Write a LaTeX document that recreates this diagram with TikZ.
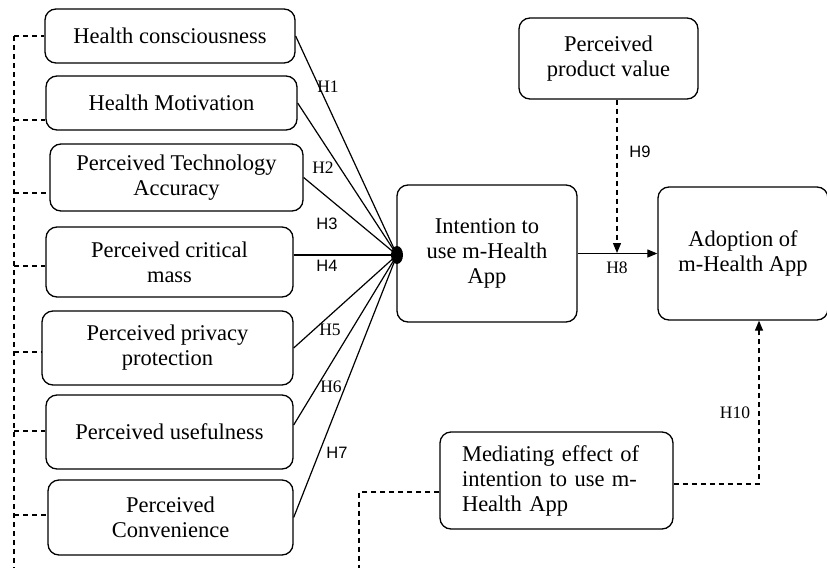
\documentclass[tikz,border=0pt]{standalone}
\usepackage{fontspec}
\setmainfont{Liberation Serif}
\newfontfamily\hsans{Liberation Sans}
\usetikzlibrary{arrows.meta}
\begin{document}
\begin{tikzpicture}[x=1pt,y=-1pt,
  box/.style={draw,rounded corners=11pt,line width=1.3pt,align=center,inner sep=0pt,
    font=\fontsize{22.5}{25}\selectfont},
  link/.style={line width=1.2pt},
  dlink/.style={line width=1.2pt,dash pattern=on 5pt off 4pt},
  hs/.style={font=\fontsize{17.5}{19}\selectfont,inner sep=0pt},
  hsa/.style={font=\hsans\fontsize{16.5}{18}\selectfont,inner sep=0pt},
  tip/.style={-{Triangle[length=10pt,width=8pt]}}
]
\useasboundingbox (0,0) rectangle (827,568);

% left boxes
\node[box,minimum width=250pt,minimum height=54pt] (b1) at (170,36) {Health consciousness};
\node[box,minimum width=251pt,minimum height=54pt] (b2) at (171.5,103) {Health Motivation};
\node[box,minimum width=253pt,minimum height=67pt] (b3) at (176.5,177.5) {Perceived Technology\\Accuracy};
\node[box,minimum width=247pt,minimum height=70pt] (b4) at (169.5,262) {Perceived critical\\mass};
\node[box,minimum width=251pt,minimum height=74pt] (b5) at (167.5,348) {Perceived privacy\\protection};
\node[box,minimum width=247pt,minimum height=74pt] (b6) at (169.5,432) {Perceived usefulness};
\node[box,minimum width=245pt,minimum height=75pt] (b7) at (170.5,517.5) {Perceived\\Convenience};

% right boxes
\node[box,minimum width=180pt,minimum height=137pt] (i) at (487,253.5) {Intention to\\use m-Health\\App};
\node[box,minimum width=179pt,minimum height=81pt] (pv) at (608.5,58.5) {Perceived\\product value};
\node[box,minimum width=170pt,minimum height=133pt] (a) at (743,253.5) {Adoption of\\m-Health App};
\node[box,minimum width=233pt,minimum height=97pt,align=left,text width=189pt,inner xsep=22pt] (m) at (556.5,480.5) {Mediating effect of\\intention to use m-\\Health App};

% junction
\coordinate (J) at (397,255);
\coordinate (c4) at (293,255);
\coordinate (c6) at (293,425);
\draw[link] (b1.east) -- (J);
\draw[link] (b2.east) -- (J);
\draw[link] (b3.east) -- (J);
\draw[link] (c4 -| b4.east) -- (J);
\draw[link] (b5.east) -- (J);
\draw[link] (c6 -| b6.east) -- (J);
\draw[link] (b7.east) -- (J);
\fill (J) ellipse [x radius=6pt, y radius=9pt];

% H8
\draw[link,tip] (i.east) -- (a.west);
% H9
\coordinate (h9x) at (617,253);
\draw[dlink,tip] (h9x |- pv.south) -- (h9x);
% H10
\coordinate (h10c) at (759,484);
\draw[dlink,tip] (h10c -| m.east) -- (h10c) -- (h10c |- a.south);
% mediating left dashed
\coordinate (m2) at (359,492);
\coordinate (mbot) at (359,568);
\draw[dlink] (m2 -| m.west) -- (m2) -- (mbot);

% left dashed spine
\coordinate (stop) at (14,36);
\coordinate (sbot) at (14,568);
\draw[dlink] (stop) -- (sbot);
\coordinate (s1) at (14,36);
\coordinate (s2) at (14,120);
\coordinate (s3) at (14,193);
\coordinate (s4) at (14,266);
\coordinate (s5) at (14,352);
\coordinate (s6) at (14,431);
\coordinate (s7) at (14,515);
\draw[dlink] (s1) -- (s1 -| b1.west);
\draw[dlink] (s2) -- (s2 -| b2.west);
\draw[dlink] (s3) -- (s3 -| b3.west);
\draw[dlink] (s4) -- (s4 -| b4.west);
\draw[dlink] (s5) -- (s5 -| b5.west);
\draw[dlink] (s6) -- (s6 -| b6.west);
\draw[dlink] (s7) -- (s7 -| b7.west);

% labels
\node[hs] (l1) at (328,87) {H1};
\node[hs] (l2) at (323,168) {H2};
\node[hsa] (l3) at (327,224) {H3};
\node[hsa] (l4) at (327,266) {H4};
\node[hs] (l5) at (330,330) {H5};
\node[hs] (l6) at (331,387) {H6};
\node[hsa] (l7) at (337,453) {H7};
\node[hs] (l8) at (617,268) {H8};
\node[hsa] (l9) at (640,152) {H9};
\node[hs] (l10) at (735,413) {H10};
\end{tikzpicture}
\end{document}
